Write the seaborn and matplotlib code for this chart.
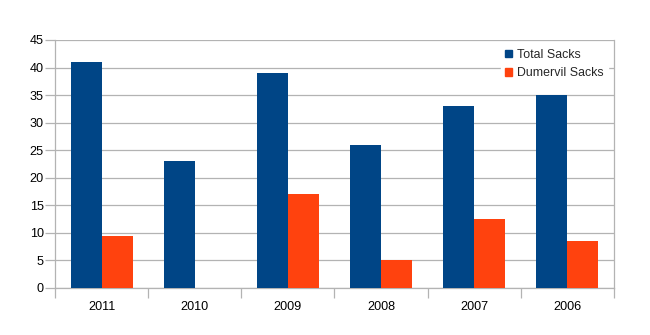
import matplotlib
matplotlib.use("Agg")
import matplotlib.pyplot as plt
import seaborn as sns
import pandas as pd
import numpy as np

years = ["2011", "2010", "2009", "2008", "2007", "2006"]
total_sacks = [41, 23, 39, 26, 33, 35]
dumervil_sacks = [9.5, 0, 17, 5, 12.5, 8.5]
series_names = ["Total Sacks", "Dumervil Sacks"]
colors = ["#004586", "#ff420e"]

df = pd.DataFrame({
    "Year": years * 2,
    "Sacks": total_sacks + dumervil_sacks,
    "Series": [series_names[0]] * len(years) + [series_names[1]] * len(years),
})

sns.set_theme(style="white")
plt.rcParams["font.family"] = ["Liberation Sans", "DejaVu Sans"]

fig = plt.figure(figsize=(6.5, 3.35), dpi=100)
ax = fig.add_axes([55 / 650, 1 - 288 / 335, (614 - 55) / 650, (288 - 40) / 335])

sns.barplot(data=df, x="Year", y="Sacks", hue="Series", order=years,
            hue_order=series_names, palette=colors, width=0.667, gap=0,
            saturation=1, linewidth=0, ax=ax, legend=False, zorder=3)

ax.set_xlim(-0.5, len(years) - 0.5)
ax.set_ylim(0, 45)
ax.set_yticks(np.arange(0, 46, 5))
ax.yaxis.grid(True, color="#b3b3b3", linewidth=0.9, zorder=0)
ax.set_axisbelow(True)
ax.set_xlabel("")
ax.set_ylabel("")

fs = 9.1
ax.set_xticks(range(len(years)))
ax.set_xticklabels(years)
ax.set_xticks(np.arange(-0.5, len(years), 1), minor=True)
ax.tick_params(axis="x", which="major", length=0, pad=9, labelsize=fs, colors="#000000")
ax.tick_params(axis="x", which="minor", length=7, width=0.9, color="#b3b3b3", bottom=True)
ax.tick_params(axis="y", which="major", length=7, width=0.9, color="#b3b3b3", left=True,
               pad=1, labelsize=fs, labelcolor="#000000")

for side in ["left", "right", "top", "bottom"]:
    ax.spines[side].set_color("#b3b3b3")
    ax.spines[side].set_linewidth(0.9)
ax.spines["top"].set_visible(False)

handles = [plt.Rectangle((0, 0), 1, 1, color=c) for c in colors]
leg = ax.legend(handles, series_names, loc="upper right", bbox_to_anchor=(1.0, 1.003),
                frameon=True, fancybox=False, framealpha=1, edgecolor="white",
                facecolor="white", fontsize=8.9, handlelength=0.55, handleheight=0.55,
                handletextpad=0.45, labelspacing=0.5, borderpad=0.3)
leg.set_zorder(5)

fig.savefig("out.png", dpi=100, facecolor="white")
